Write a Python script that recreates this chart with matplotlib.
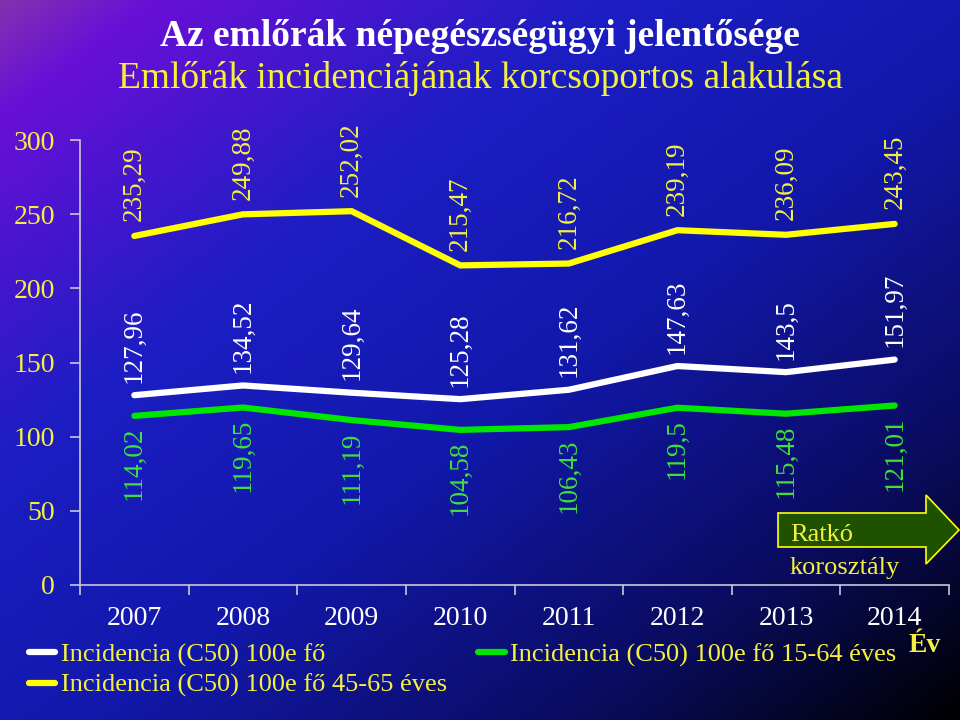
import numpy as np
import matplotlib
matplotlib.use('Agg')
import matplotlib.pyplot as plt
from matplotlib.patches import Polygon

plt.rcParams['font.family'] = ['Liberation Serif', 'DejaVu Serif']

# data
years = ['2007', '2008', '2009', '2010', '2011', '2012', '2013', '2014']
osszes = [127.96, 134.52, 129.64, 125.28, 131.62, 147.63, 143.5, 151.97]
kor_15_64 = [114.02, 119.65, 111.19, 104.58, 106.43, 119.5, 115.48, 121.01]
kor_45_65 = [235.29, 249.88, 252.02, 215.47, 216.72, 239.19, 236.09, 243.45]
yticks = [0, 50, 100, 150, 200, 250, 300]

YEL = '#ffff00'
YEL_TXT = '#f5f040'
GRN = '#00e600'
GRN_TXT = '#3ee03e'
WHT = '#ffffff'


def fmt(v):
    s = ('%.2f' % v).rstrip('0').rstrip('.')
    return s.replace('.', ',')


fig = plt.figure(figsize=(9.6, 7.2), dpi=100)

# background gradient (purple top-left -> blue -> black bottom-right)
W, H = 480, 360
xx, yy = np.meshgrid(np.linspace(0, 1, W), np.linspace(0, 1, H))
d = (xx * 1.0 + yy * 1.0) / 2.0
stops = [0.0, 0.08, 0.32, 0.55, 0.8, 1.0]
cols = np.array([[130, 50, 175], [105, 15, 215], [28, 30, 195],
                 [18, 24, 170], [10, 12, 95], [0, 0, 0]]) / 255.0
img = np.zeros((H, W, 3))
for c in range(3):
    img[:, :, c] = np.interp(d, stops, cols[:, c])
bg = fig.add_axes([0, 0, 1, 1], zorder=-10)
bg.imshow(img, aspect='auto', extent=[0, 1, 0, 1], origin='upper')
bg.axis('off')

ax = fig.add_axes([80 / 960, 1 - 585 / 720, 869 / 960, 445 / 720])
ax.set_facecolor('none')
x = np.arange(len(years))

l1, = ax.plot(x, osszes, color=WHT, lw=4.5, solid_capstyle='round', solid_joinstyle='miter')
l2, = ax.plot(x, kor_15_64, color=GRN, lw=4.5, solid_capstyle='round', solid_joinstyle='miter')
l3, = ax.plot(x, kor_45_65, color=YEL, lw=4.5, solid_capstyle='round', solid_joinstyle='miter')

for i in range(len(years)):
    ax.annotate(fmt(osszes[i]), (x[i], osszes[i]), xytext=(0, 9), textcoords='offset points',
                rotation=90, ha='center', va='bottom', color=WHT, fontsize=19.5)
    ax.annotate(fmt(kor_45_65[i]), (x[i], kor_45_65[i]), xytext=(0, 10.5), textcoords='offset points',
                rotation=90, ha='center', va='bottom', color=YEL_TXT, fontsize=19.5)
    ax.annotate(fmt(kor_15_64[i]), (x[i], kor_15_64[i]), xytext=(0, -8), textcoords='offset points',
                rotation=90, ha='center', va='top', color=GRN_TXT, fontsize=19.5)

ax.set_xlim(-0.5, len(years) - 0.5)
ax.set_ylim(0, 300)
ax.set_yticks(yticks)
ax.set_yticklabels([str(t) for t in yticks], color=YEL_TXT, fontsize=20)
ax.set_xticks(x)
ax.set_xticklabels(years, color=WHT, fontsize=20)
ax.set_xticks(np.arange(-0.5, len(years)), minor=True)
ax.tick_params(axis='x', which='major', length=0, pad=15)
ax.tick_params(axis='x', which='minor', length=7, color='#c8c8d8', width=1.2)
ax.tick_params(axis='y', length=7, color='#c8c8d8', width=1.2, pad=11)
for s in ['top', 'right']:
    ax.spines[s].set_visible(False)
for s in ['left', 'bottom']:
    ax.spines[s].set_color('#c8c8d8')
    ax.spines[s].set_linewidth(1.2)

# titles
fig.text(0.5, 1 - 36 / 720, 'Az emlőrák népegészségügyi jelentősége', ha='center', va='center',
         color='white', fontsize=27, fontweight='bold')
fig.text(0.5, 1 - 78 / 720, 'Emlőrák incidenciájának korcsoportos alakulása', ha='center', va='center',
         color=YEL_TXT, fontsize=27)

# Ratkó arrow
arrow = Polygon([(778 / 960, 1 - 513 / 720), (926 / 960, 1 - 513 / 720), (926 / 960, 1 - 495 / 720),
                 (959 / 960, 1 - 530 / 720), (926 / 960, 1 - 564 / 720), (926 / 960, 1 - 547 / 720),
                 (778 / 960, 1 - 547 / 720)], closed=True, transform=fig.transFigure,
                facecolor='#1e5200', edgecolor=YEL, lw=1.2, zorder=3)
fig.patches.append(arrow)
fig.text(790 / 960, 1 - 535 / 720, 'Ratkó', color=YEL_TXT, fontsize=19, va='center', ha='left', zorder=4)
fig.text(790 / 960, 1 - 568 / 720, 'korosztály', color=YEL_TXT, fontsize=19, va='center', ha='left', zorder=4)

fig.text(925 / 960, 1 - 645 / 720, 'Év', color=YEL_TXT, fontsize=20, fontweight='bold', ha='center', va='center')

leg = fig.legend([l1, l3, l2],
                 ['Incidencia (C50) 100e fő', 'Incidencia (C50) 100e fő 45-65 éves',
                  'Incidencia (C50) 100e fő 15-64 éves'],
                 loc='upper left', bbox_to_anchor=(29 / 960, 1 - 643 / 720), ncol=2, frameon=False,
                 fontsize=19, handlelength=1.0, handletextpad=0.2, columnspacing=1.2,
                 labelspacing=0.25, borderaxespad=0, borderpad=0)
for t in leg.get_texts():
    t.set_color(YEL_TXT)

fig.savefig('out.png', dpi=100)
